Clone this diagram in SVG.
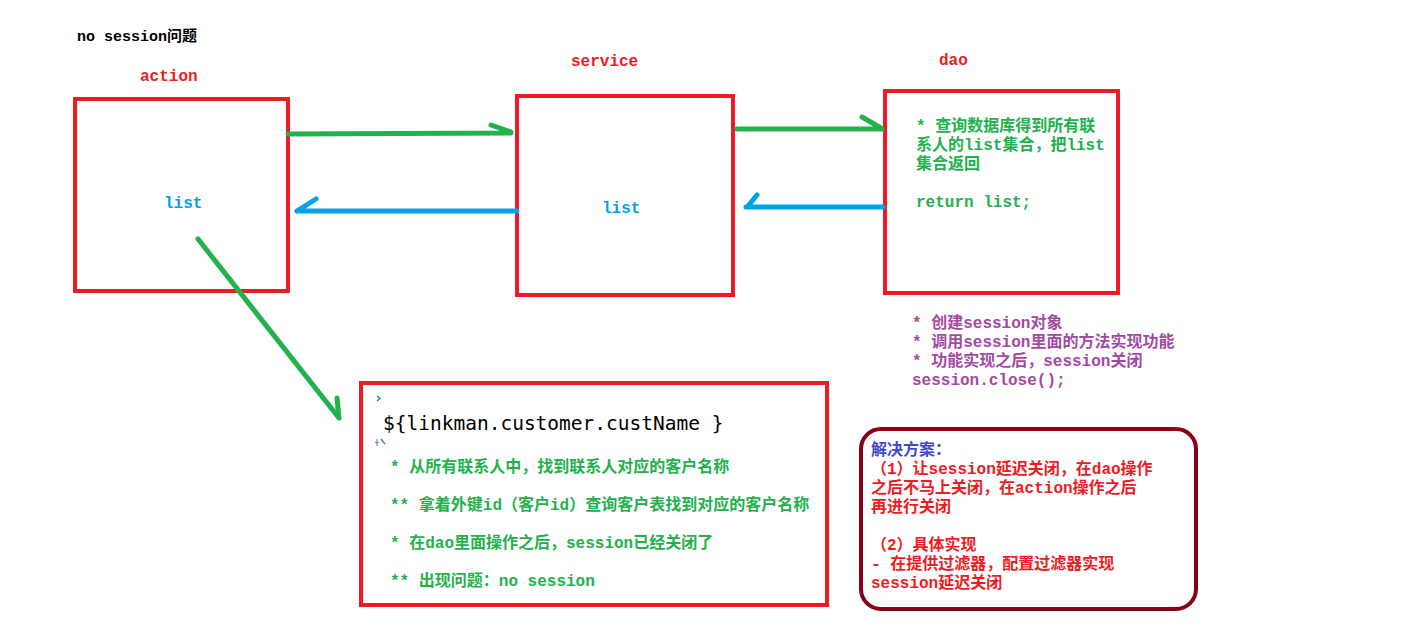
<svg xmlns="http://www.w3.org/2000/svg" width="1401" height="637" viewBox="0 0 1401 637">
<style>
.t{font-family:"Liberation Mono","Noto Sans CJK SC",monospace;font-size:16px;font-weight:bold}
.box{fill:none;stroke:#ED1C24;stroke-width:4}
.g{fill:#22B14C}.r{fill:#ED1C24}.b{fill:#00A2E8}.p{fill:#A349A4}.k{fill:#000}.bl{fill:#3F48CC}
.lg{fill:none;stroke:#22B14C;stroke-width:5;stroke-linecap:round;stroke-linejoin:round}
.lb{fill:none;stroke:#00A2E8;stroke-width:5;stroke-linecap:round;stroke-linejoin:round}
</style>
<rect width="1401" height="637" fill="#fff"/>
<text class="t k" x="77" y="41" style="font-size:15px">no session问题</text>
<g id="action">
<text class="t r" x="140" y="81">action</text>
<rect class="box" x="75" y="99" width="213" height="192"/>
<text class="t b" x="164" y="208">list</text>
</g>
<g id="service">
<text class="t r" x="571" y="66">service</text>
<rect class="box" x="517" y="96" width="216" height="199"/>
<text class="t b" x="602" y="213">list</text>
</g>
<g id="dao">
<text class="t r" x="939" y="65">dao</text>
<rect class="box" x="885" y="91" width="233" height="202"/>
<text class="t g" x="916" y="131">* 查询数据库得到所有联</text>
<text class="t g" x="916" y="150">系人的list集合，把list</text>
<text class="t g" x="916" y="169">集合返回</text>
<text class="t g" x="916" y="207">return list;</text>
</g>
<g id="session-notes">
<text class="t p" x="912" y="328">* 创建session对象</text>
<text class="t p" x="912" y="347">* 调用session里面的方法实现功能</text>
<text class="t p" x="912" y="366">* 功能实现之后，session关闭</text>
<text class="t p" x="912" y="385">session.close();</text>
</g>
<g id="jsp">
<rect class="box" x="361" y="383" width="466" height="222"/>
<path d="M377,396 L380,398.5 L377,401" fill="none" stroke="#1E8FA8" stroke-width="1.5"/>
<text x="383" y="430" style="font-family:'DejaVu Sans Mono','Liberation Mono',monospace;font-size:19.5px" fill="#000">${linkman.customer.custName }</text>
<path d="M377,439 L377,446 M375,442.5 L379,442.5" fill="none" stroke="#7A8C8C" stroke-width="1.2"/>
<path d="M381,439 L385,444" fill="none" stroke="#1E8FA8" stroke-width="1.4"/>
<text class="t g" x="390" y="472">* 从所有联系人中，找到联系人对应的客户名称</text>
<text class="t g" x="390" y="510">** 拿着外键id（客户id）查询客户表找到对应的客户名称</text>
<text class="t g" x="390" y="548">* 在dao里面操作之后，session已经关闭了</text>
<text class="t g" x="390" y="586">** 出现问题：no session</text>
</g>
<g id="solution">
<rect x="861" y="429" width="335" height="180" rx="20" ry="20" fill="none" stroke="#880015" stroke-width="4"/>
<text class="t bl" x="871" y="455">解决方案：</text>
<text class="t r" x="871" y="474">（1）让session延迟关闭，在dao操作</text>
<text class="t r" x="871" y="493">之后不马上关闭，在action操作之后</text>
<text class="t r" x="871" y="512">再进行关闭</text>
<text class="t r" x="871" y="550">（2）具体实现</text>
<text class="t r" x="871" y="569">- 在提供过滤器，配置过滤器实现</text>
<text class="t r" x="871" y="588">session延迟关闭</text>
</g>
<g id="connectors">
<path class="lg" d="M288,134 L511,133 M491,125 L511,132"/>
<path class="lb" d="M517,211 L297,211 M316,199 L297,211"/>
<path class="lg" d="M737,129 L882,129 M862,117 L881,128"/>
<path class="lb" d="M883,207 L746,207 M757,195 L748,206"/>
<path class="lg" d="M198,239 L339,418 M337,398 L339,418"/>
</g>
</svg>
